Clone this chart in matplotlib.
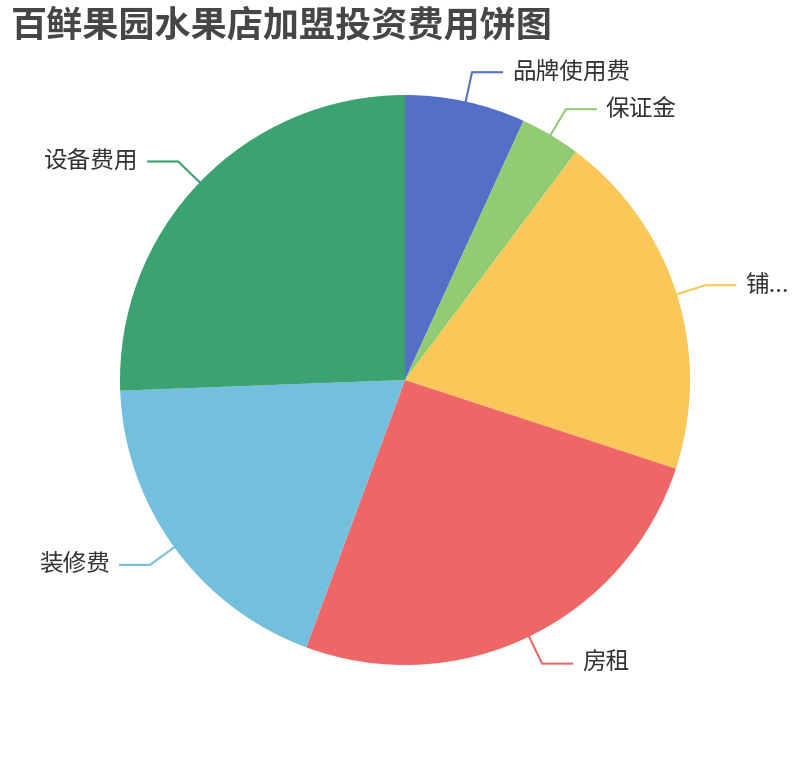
import numpy as np
import matplotlib
matplotlib.use("Agg")
import matplotlib.pyplot as plt

plt.rcParams['font.family'] = ['Noto Sans CJK SC', 'DejaVu Sans']

# --- Data (万元) ---
labels = ['品牌使用费', '保证金', '铺...', '房租', '装修费', '设备费用']
values = [2.0, 1.0, 5.8, 7.5, 5.5, 7.5]
colors = ['#5470c6', '#91cc75', '#fac858', '#ee6666', '#73c0de', '#3ba272']

TITLE = '百鲜果园水果店加盟投资费用饼图'

W, H = 810, 760
CX, CY, R = 405, 380, 285
LEN1, LEN2, GAP = 30, 30, 10

fig = plt.figure(figsize=(W / 100, H / 100), dpi=100)
ax = fig.add_axes([0, 0, 1, 1])

wedges, _ = ax.pie(values, colors=colors, startangle=90, counterclock=False,
                   radius=R, center=(CX, CY), frame=True,
                   wedgeprops=dict(linewidth=0))
ax.set_xlim(0, W)
ax.set_ylim(0, H)
ax.set_aspect('equal')
ax.axis('off')

# --- Label guide lines (echarts style) ---
for w, lab, col in zip(wedges, labels, colors):
    mid = np.deg2rad((w.theta1 + w.theta2) / 2)
    x0, y0 = CX + R * np.cos(mid), CY + R * np.sin(mid)
    x1, y1 = CX + (R + LEN1) * np.cos(mid), CY + (R + LEN1) * np.sin(mid)
    side = 1 if np.cos(mid) >= 0 else -1
    x2 = x1 + side * LEN2
    ax.plot([x0, x1, x2], [y0, y1, y1], color=col, linewidth=1.5,
            solid_joinstyle='miter')
    ax.text(x2 + side * GAP, y1, lab, fontsize=17, color='#333333',
            ha='left' if side > 0 else 'right', va='center')

fig.text(11 / W, 1 - 26 / H, TITLE, fontsize=26, fontweight='bold',
         color='#464646', ha='left', va='center')

fig.savefig('out.png', dpi=100)
